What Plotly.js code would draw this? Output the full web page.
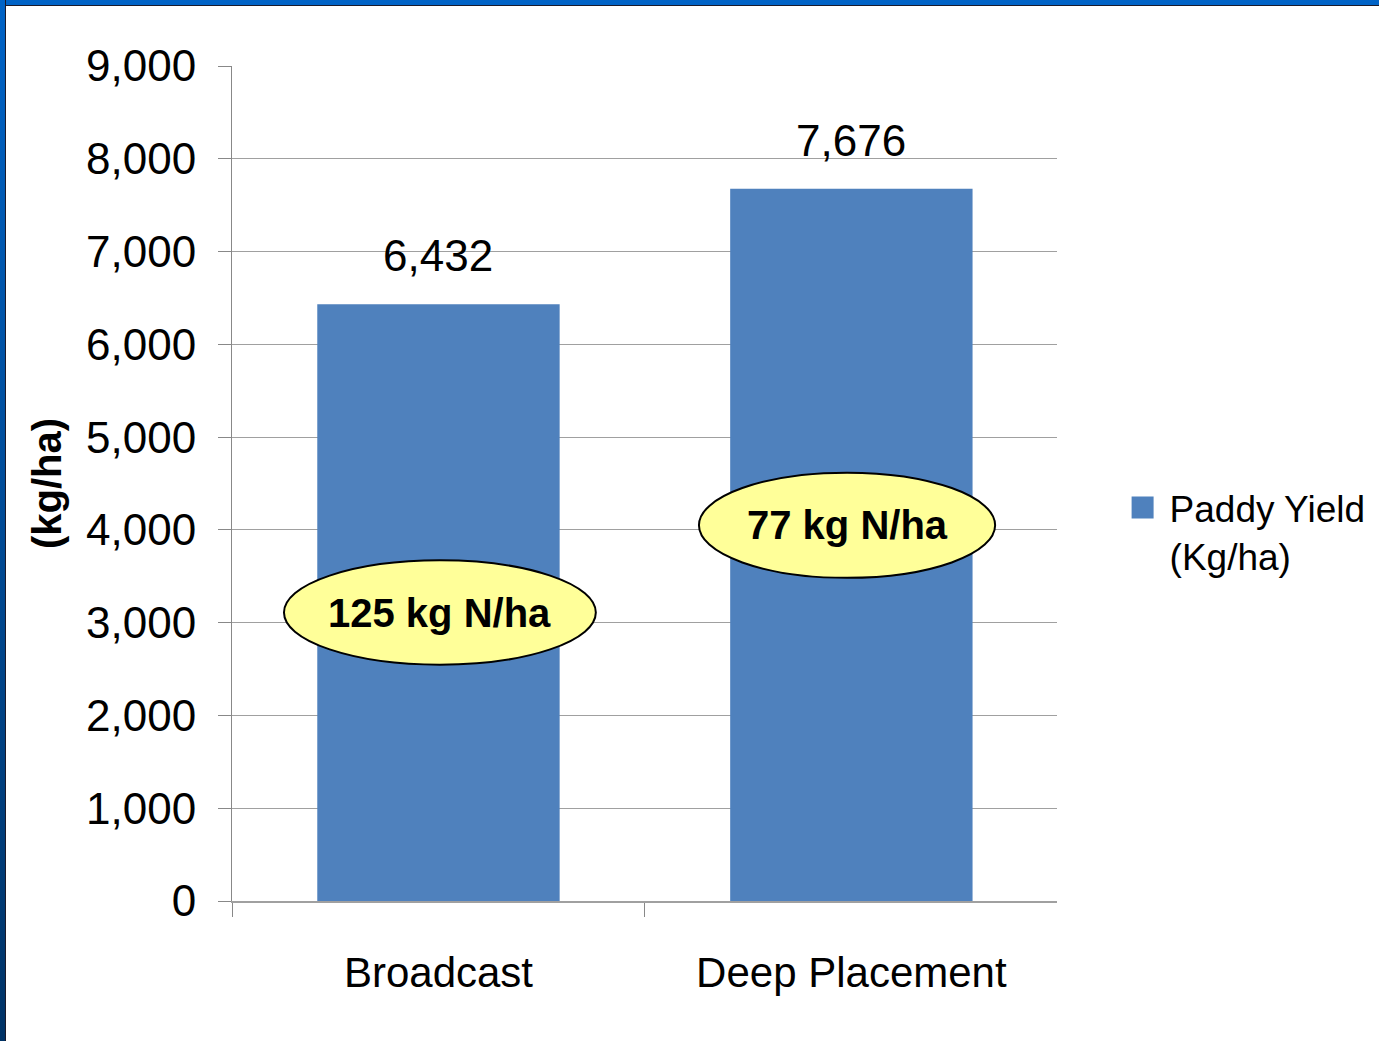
<!DOCTYPE html>
<html>
<head>
<meta charset="utf-8">
<script src="https://cdn.plot.ly/plotly-3.0.1.min.js"></script>
<style>
  html, body { margin: 0; padding: 0; width: 1379px; height: 1041px; overflow: hidden; background: #ffffff; }
  #frame { position: absolute; left: 0; top: 0; width: 1379px; height: 1041px; background: #ffffff; }
  #topbar { position: absolute; left: 0; top: 0; width: 1379px; height: 5px; background: #0063c6; border-bottom: 1px solid #1a1a2a; }
  #leftbar { position: absolute; left: 0; top: 0; width: 5px; height: 1041px; background: linear-gradient(to bottom, #0063c6 0%, #0050a0 40%, #003366 100%); border-right: 1px solid #1a1a2a; }
  #chart { position: absolute; left: 7px; top: 6px; width: 1420px; height: 1035px; }
</style>
</head>
<body>
<div id="frame"></div>
<div id="chart"></div>
<div id="topbar"></div>
<div id="leftbar"></div>
<script>
const categories = ["Broadcast", "Deep Placement"];
const yieldValues = [6432, 7676];
const seriesName = "Paddy Yield<br>(Kg/ha)";
const nitrogenLabels = ["125 kg N/ha", "77 kg N/ha"];
const yTickValues = [0, 1000, 2000, 3000, 4000, 5000, 6000, 7000, 8000, 9000];

const FONT = "Arial, 'Liberation Sans', sans-serif";
const barColor = "#4f81bd";

const trace = {
  type: "bar",
  x: categories,
  y: yieldValues,
  name: seriesName,
  marker: { color: barColor },
  hoverinfo: "x+y",
  showlegend: true
};

const valueAnnotations = categories.map((c, i) => ({
  x: c, y: yieldValues[i], xref: "x", yref: "y",
  text: yieldValues[i].toLocaleString("en-US"),
  showarrow: false, yanchor: "bottom", yshift: 22,
  font: { family: FONT, size: 44, color: "#000000" }
}));

// ellipse callouts (paper coordinates relative to plot area)
const ellipseBoxes = [
  { x0: 0.063, x1: 0.441, y0: 0.283, y1: 0.408 },
  { x0: 0.566, x1: 0.925, y0: 0.387, y1: 0.513 }
];

const shapes = ellipseBoxes.map(b => ({
  type: "circle", xref: "paper", yref: "paper",
  x0: b.x0, x1: b.x1, y0: b.y0, y1: b.y1,
  fillcolor: "#ffff99", line: { color: "#000000", width: 2 }, layer: "above"
}));

const ellipseAnnotations = ellipseBoxes.map((b, i) => ({
  x: (b.x0 + b.x1) / 2, y: (b.y0 + b.y1) / 2, xref: "paper", yref: "paper",
  text: "<b>" + nitrogenLabels[i] + "</b>", showarrow: false,
  xanchor: "center", yanchor: "middle",
  font: { family: FONT, size: 40, color: "#000000" }
}));

const layout = {
  width: 1420, height: 1035,
  margin: { l: 225, r: 370, t: 60, b: 140 },
  paper_bgcolor: "#ffffff", plot_bgcolor: "#ffffff",
  font: { family: FONT, color: "#000000" },
  bargap: 0.413,
  xaxis: {
    type: "category",
    range: [-0.5, 1.498],
    showgrid: false,
    showline: true, linecolor: "#a0a0a0", linewidth: 2,
    ticks: "outside", tickson: "boundaries", ticklen: 14, tickcolor: "#888888", tickwidth: 1,
    tickfont: { family: FONT, size: 42, color: "#000000" },
    ticklabelstandoff: 34,
    zeroline: false
  },
  yaxis: {
    range: [0, 9000],
    tickvals: yTickValues,
    tickformat: ",d",
    showgrid: true, gridcolor: "#a0a0a0", gridwidth: 1,
    showline: true, linecolor: "#888888", linewidth: 1,
    ticks: "outside", ticklen: 13, tickcolor: "#888888",
    tickfont: { family: FONT, size: 44, color: "#000000" },
    ticklabelstandoff: 13,
    zeroline: false,
    title: { text: "<b>(kg/ha)</b>", font: { family: FONT, size: 40, color: "#000000" }, standoff: 12 }
  },
  legend: {
    x: 1.088, xanchor: "left", y: 0.442, yanchor: "middle",
    valign: "top",
    font: { family: FONT, size: 37, color: "#000000" },
    bgcolor: "rgba(0,0,0,0)"
  },
  shapes: shapes,
  annotations: valueAnnotations.concat(ellipseAnnotations)
};

Plotly.newPlot("chart", [trace], layout, { displayModeBar: false, staticPlot: true }).then(gd => {
  // enlarge the legend swatch to match the reference's square marker
  gd.querySelectorAll(".legendpoints path").forEach(p => {
    p.setAttribute("d", "M4,11H-18V-11H4Z");
  });
});
</script>
</body>
</html>
